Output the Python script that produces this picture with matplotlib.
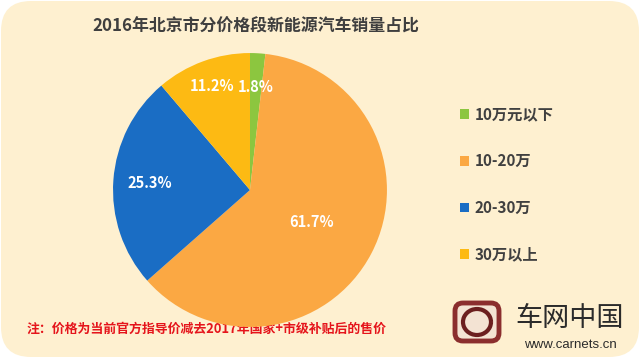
import numpy as np
import matplotlib.pyplot as plt
from matplotlib.patches import FancyBboxPatch, Arc

plt.rcParams['font.family'] = ['Noto Sans CJK SC', 'DejaVu Sans']

# data
categories = ['10万元以下', '10-20万', '20-30万', '30万以上']
shares = [1.8, 61.7, 25.3, 11.2]
colors = ['#8CC63F', '#FBA843', '#1A6DC4', '#FDBA13']
title = '2016年北京市分价格段新能源汽车销量占比'
note = '注：价格为当前官方指导价减去2017年国家+市级补贴后的售价'

bg = '#FEF0D0'

fig = plt.figure(figsize=(6.4, 3.6), dpi=100, facecolor='white')

# background axes in pixel coordinates
bax = fig.add_axes([0, 0, 1, 1])
bax.set_xlim(0, 640)
bax.set_ylim(360, 0)
bax.axis('off')
bax.add_patch(FancyBboxPatch((1, 1), 638, 356, boxstyle='round,pad=0,rounding_size=30',
                             facecolor=bg, edgecolor='none'))

bax.text(256, 27, title, ha='center', va='center', fontsize=12.2, fontweight='bold',
         color='#3F3F3F')
bax.text(27, 329, note, ha='left', va='center', fontsize=9.3, fontweight='bold',
         color='#E5141B')

# logo (rough)
bax.add_patch(FancyBboxPatch((455, 303), 44, 38, boxstyle='round,pad=0,rounding_size=8',
                             facecolor='#F3E3D3', edgecolor='#8B2E2E', linewidth=3.5))
bax.add_patch(Arc((477, 322), 28, 26, theta1=0, theta2=360, color='#6B1F1F', linewidth=3))
bax.text(570, 318, '车网中国', ha='center', va='center', fontsize=19.5, color='#2B2B2B')
bax.text(570, 345, 'www.carnets.cn', ha='center', va='center', fontsize=9.5,
         color='#2B2B2B', family='Liberation Sans')

# pie
ax = fig.add_axes([0.1766, 0.0917, 0.428, 0.761])
wedges, texts, autotexts = ax.pie(shares, colors=colors, startangle=90, counterclock=False,
                                  autopct='%.1f%%', pctdistance=0.75,
                                  wedgeprops=dict(linewidth=0))
label_r = [1.0, 0.68, 0.98, 1.08]
for t, r in zip(autotexts, label_r):
    x, y = t.get_position()
    t.set_position((x * r, y * r))
    t.set_color('white')
    t.set_fontsize(10.5)
    t.set_fontweight('bold')
ax.set_xlim(-1, 1)
ax.set_ylim(-1, 1)
ax.set_aspect('equal')
ax.axis('off')

fig.legend(wedges, categories, loc='upper left', bbox_to_anchor=(452 / 640, 1 - 99 / 360),
           frameon=False, handlelength=0.6, handleheight=0.6,
           handletextpad=0.4, labelspacing=2.0, borderpad=0,
           prop=dict(weight='bold', size=11), labelcolor='#404040')

fig.savefig('out.png', dpi=100, facecolor='white')
